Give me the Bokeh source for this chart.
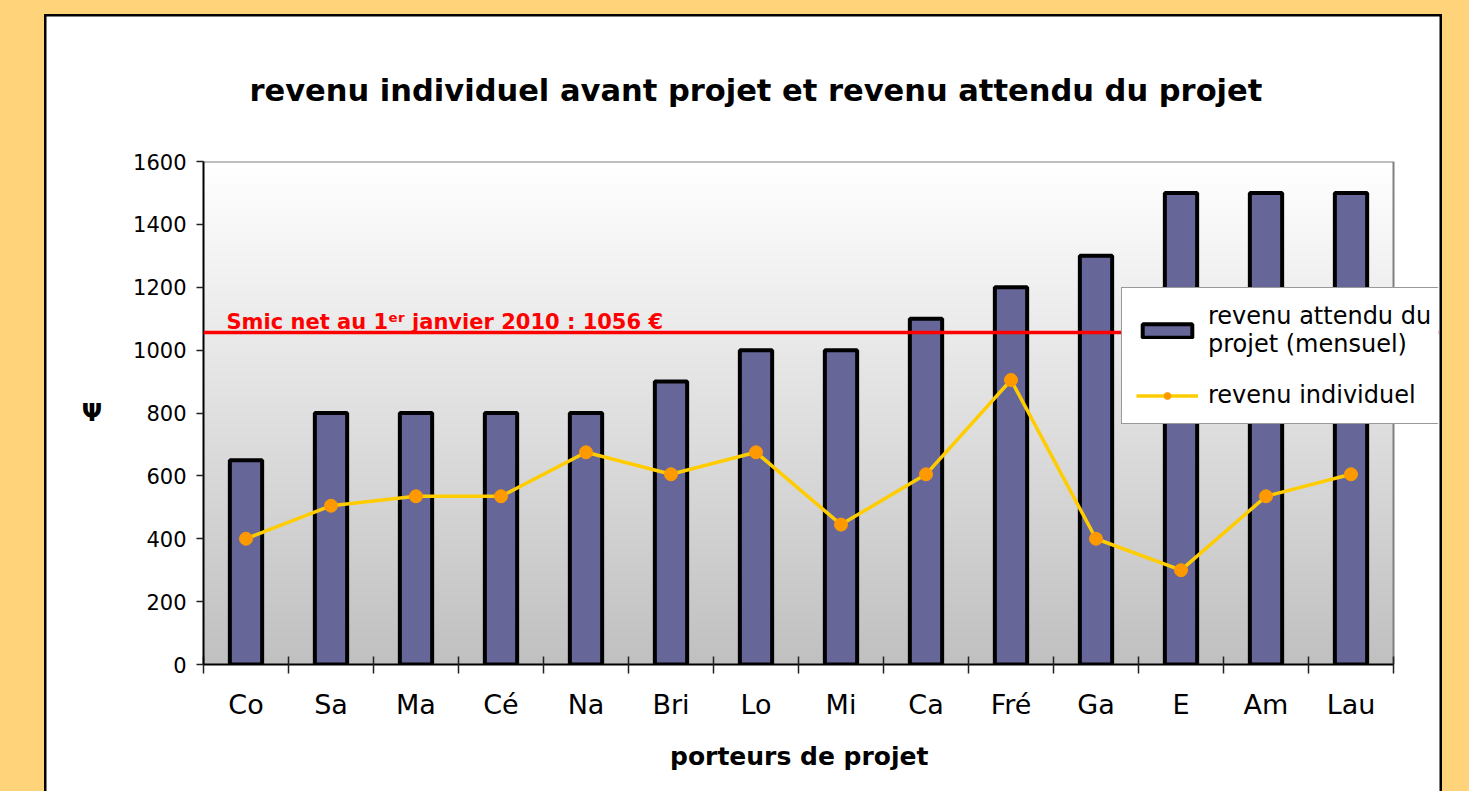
import numpy as np
from bokeh.plotting import figure
from bokeh.layouts import column
from bokeh.models import Range1d, FixedTicker, Span, Label, Legend, LegendItem
from bokeh.embed import file_html
from bokeh.resources import INLINE

# ---- data ----
porteurs = ["Co", "Sa", "Ma", "Cé", "Na", "Bri", "Lo", "Mi", "Ca", "Fré", "Ga", "E", "Am", "Lau"]
revenu_attendu = [650, 800, 800, 800, 800, 900, 1000, 1000, 1100, 1200, 1300, 1500, 1500, 1500]
revenu_avant = [400, 505, 535, 535, 675, 605, 675, 445, 605, 905, 400, 300, 535, 605]
smic = 1056
y_ticks = [0, 200, 400, 600, 800, 1000, 1200, 1400, 1600]

title_text = "revenu individuel avant projet et revenu attendu du projet"
x_title = "porteurs de projet"
y_title = "Ψ"
smic_text = "Smic net au 1ᵉʳ janvier 2010 : 1056 €"
legend_bar = "revenu attendu du\nprojet (mensuel)"
legend_line = "revenu individuel"

n = len(porteurs)
xs = [i + 0.5 for i in range(n)]
ymax = y_ticks[-1]

# ---- geometry (pixels inside the white panel) ----
W, H = 1398, 777                    # white panel
FL, FT, FB = 159, 147, 650          # plot-area left / top / bottom
PR = 1349                           # plot-area right (end of x axis)
FR = 1394                           # frame right (room for the legend)
x_end = n * (FR - FL) / (PR - FL)

p = figure(width=W, height=H, output_backend="svg", toolbar_location=None,
           x_range=Range1d(0, x_end), y_range=Range1d(0, ymax),
           min_border_left=FL, min_border_right=W - FR,
           min_border_top=FT, min_border_bottom=H - FB,
           margin=(14, 27, 0, 44))

p.border_fill_alpha = 0
p.background_fill_color = "white"
p.outline_line_color = None
p.xgrid.visible = False
p.ygrid.visible = False
p.styles = {"background-color": "white",
            "box-shadow": "inset 2.5px 2.5px 0 0 black, inset -2.5px 0 0 0 black"}

# gradient plot background
rows = 256
t = np.linspace(0.0, 1.0, rows)
g = np.round(192 + (255 - 192) * t).astype(np.uint8)
img = np.zeros((rows, 4), dtype=np.uint32)
view = img.view(dtype=np.uint8).reshape((rows, 4, 4))
for c in range(3):
    view[:, :, c] = g[:, None]
view[:, :, 3] = 255
p.image_rgba(image=[img], x=0, y=0, dw=n, dh=ymax, level="underlay")

# grey top/right border of the plot area
p.segment(x0=[0, n], y0=[ymax, 0], x1=[n, n], y1=[ymax, ymax],
          line_color="#808080", line_width=2)

# title
p.title.text = title_text
p.title.text_font = "DejaVu Sans"
p.title.text_font_style = "bold"
p.title.text_font_size = "30.5px"
p.title.text_color = "black"
p.title.align = "left"
p.title.offset = 46
p.title.standoff = 108

# bars and line
bars = p.vbar(x=xs, top=revenu_attendu, bottom=0, width=0.38,
              fill_color="#666699", line_color="black", line_width=4)
line = p.line(xs, revenu_avant, line_color="#FFCC00", line_width=3.5)
pts = p.scatter(xs, revenu_avant, size=13, fill_color="#FF9900", line_color="#FF9900")

# x axis
xa = p.xaxis[0]
xa.bounds = (0, n)
xa.ticker = FixedTicker(ticks=xs, minor_ticks=list(range(n + 1)))
xa.major_label_overrides = {x: name for x, name in zip(xs, porteurs)}
xa.major_tick_in = 0
xa.major_tick_out = 0
xa.minor_tick_in = 8
xa.minor_tick_out = 9
xa.minor_tick_line_color = "#222222"
xa.minor_tick_line_width = 1.5
xa.axis_line_color = "black"
xa.axis_line_width = 2
xa.major_label_text_font = "DejaVu Sans"
xa.major_label_text_font_size = "27px"
xa.major_label_text_color = "black"
xa.major_label_standoff = 15
# trailing no-break spaces re-centre the title under the plot area
xa.axis_label = x_title + "\u00a0" * 5
xa.axis_label_text_font = "DejaVu Sans"
xa.axis_label_text_font_style = "bold"
xa.axis_label_text_font_size = "25px"
xa.axis_label_text_color = "black"
xa.axis_label_standoff = 19

# y axis
ya = p.yaxis[0]
ya.ticker = FixedTicker(ticks=y_ticks, minor_ticks=[])
ya.major_tick_in = 0
ya.major_tick_out = 7
ya.major_tick_line_color = "#222222"
ya.major_tick_line_width = 1.5
ya.minor_tick_in = 0
ya.minor_tick_out = 0
ya.axis_line_color = "black"
ya.axis_line_width = 2
ya.major_label_text_font = "DejaVu Sans"
ya.major_label_text_font_size = "21px"
ya.major_label_text_color = "black"
ya.major_label_standoff = 10
ya.axis_label = y_title
ya.axis_label_text_font = "DejaVu Sans"
ya.axis_label_text_font_style = "bold"
ya.axis_label_text_font_size = "24px"
ya.axis_label_text_color = "black"
ya.axis_label_standoff = 28
try:
    ya.axis_label_orientation = "horizontal"
except Exception:
    pass

# Smic reference line
p.add_layout(Span(location=smic, dimension="width", line_color="#FF0000", line_width=3.5))
p.add_layout(Label(x=23, y=smic, x_units="screen", y_units="data", y_offset=-1,
                   text=smic_text, text_baseline="bottom", text_align="left",
                   text_font="DejaVu Sans", text_font_style="bold",
                   text_font_size="21px", text_color="#FF0000"))

# legend
legend = Legend(items=[LegendItem(label=legend_bar, renderers=[bars]),
                       LegendItem(label=legend_line, renderers=[line, pts])],
                location=(1121 - 203, 664 - 424),
                border_line_color="#333333", border_line_width=1.5,
                background_fill_color="white", background_fill_alpha=1.0,
                label_text_font="DejaVu Sans", label_text_font_size="24px",
                label_text_color="black", label_text_line_height=1.5,
                glyph_width=62, glyph_height=17, label_standoff=10,
                padding=14, spacing=23, label_width=217, margin=0)
p.add_layout(legend)

page = column(p, styles={"background-color": "#FFD37A"})

open("out.html", "w").write(file_html(page, INLINE))
